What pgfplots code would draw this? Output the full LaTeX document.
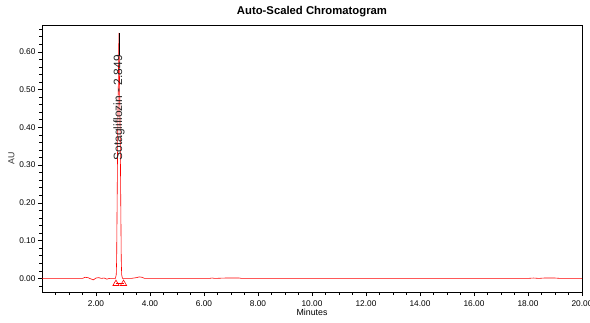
\documentclass[border=0pt]{standalone}
\usepackage{fontspec}
\setmainfont{Liberation Sans}
\usepackage{pgfplots}
\pgfplotsset{compat=1.18}
\begin{document}
\begin{tikzpicture}
\begin{axis}[
  scale only axis,
  width=540pt, height=267pt,
  xmin=0, xmax=20, ymin=-0.036, ymax=0.671,
  xtick={2,4,...,20},
  minor xtick={0.5,1,...,20},
  ytick={0,0.1,0.2,0.3,0.4,0.5,0.6},
  minor ytick={-0.02,0,0.02,0.04,0.06,0.08,0.10,0.12,0.14,0.16,0.18,0.20,0.22,0.24,0.26,0.28,0.30,0.32,0.34,0.36,0.38,0.40,0.42,0.44,0.46,0.48,0.50,0.52,0.54,0.56,0.58,0.60,0.62,0.64,0.66},
  xtick pos=bottom, ytick pos=left,
  tick align=outside,
  major tick length=4pt, minor tick length=2.5pt,
  tick style={black, line width=0.6pt},
  axis line style={line width=0.8pt},
  /pgf/number format/assume math mode=true,
  /pgf/number format/.cd, fixed, fixed zerofill, precision=2, /pgfplots/.cd,
  scaled y ticks=false,
  tick label style={font=\fontsize{8.3}{9}\selectfont},
  xlabel={Minutes}, ylabel={AU},
  label style={font=\fontsize{8.8}{10}\selectfont},
  xlabel style={yshift=4pt},
  ylabel style={yshift=-2pt, text=black!80},
  xticklabel style={yshift=-1pt},
  yticklabel style={xshift=1pt},
  clip=false,
]
\addplot[red, line width=0.6pt] coordinates {
(0,0) (1.5,0) (1.6,0.003) (1.7,0.002) (1.8,-0.001) (1.9,-0.004) (2.0,0.001)
(2.1,0.002) (2.2,0.000) (2.3,0.001) (2.4,-0.002) (2.5,0.000) (2.72,0.000)
(2.75,0.01) (2.765,0.05) (2.80,0.35) (2.849,0.650) (2.90,0.35) (2.935,0.05)
(2.95,0.01) (2.98,0.000) (3.3,0.000) (3.5,0.002) (3.6,0.004)
(3.7,0.003) (3.8,0.000) (6.2,0) (6.3,0.001) (6.4,0) (6.8,0.001) (7.3,0.001) (7.4,0)
(18,0) (18.2,0.001) (18.4,0) (18.6,0.001) (19.0,0.001) (19.2,0) (20,0)
};
\addplot[red, line width=0.6pt, mark=triangle, mark size=3.6pt, mark options={solid}] coordinates {
(2.74,-0.014) (3.02,-0.014)
};
\addplot[black, line width=0.6pt] coordinates {(2.849,0.59) (2.849,0.650)};
\node[rotate=90, font=\fontsize{12}{14}\selectfont, text=black!85] at (axis cs:2.849,0.452) {Sotagliflozin - 2.849};
\node[font=\bfseries\fontsize{11.3}{13}\selectfont] at (rel axis cs:0.5,1) [yshift=13pt] {Auto-Scaled Chromatogram};
\end{axis}
\path (current axis.south west) ++(-42pt,-30pt) coordinate (bbA);
\path (current axis.north east) ++(8pt,25pt) coordinate (bbB);
\pgfresetboundingbox
\path[use as bounding box] (bbA) rectangle (bbB);
\end{tikzpicture}
\end{document}
